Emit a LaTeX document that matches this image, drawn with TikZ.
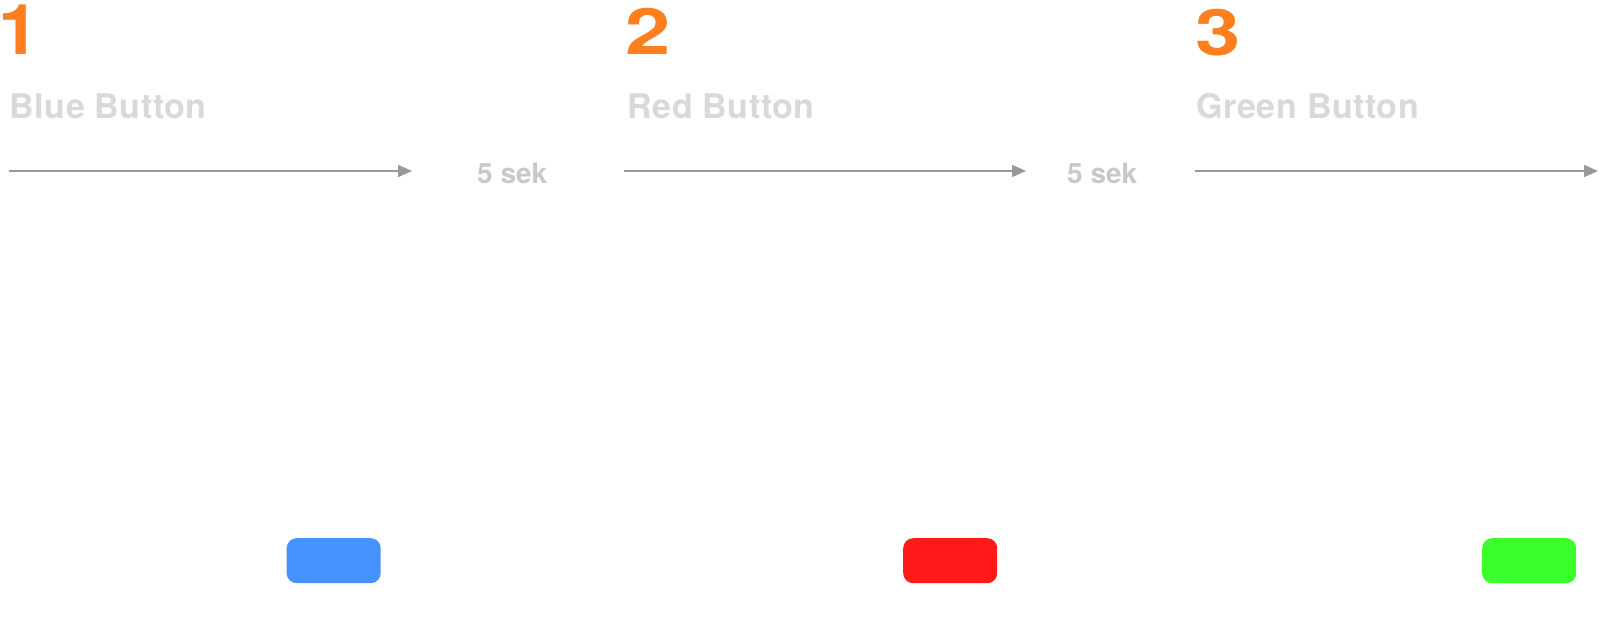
\documentclass[tikz,border=0pt]{standalone}
\usepackage{fontspec}
\setmainfont{TeX Gyre Heros}
\usetikzlibrary{arrows.meta}
\definecolor{numorange}{HTML}{FF7F1E}
\definecolor{titlegray}{HTML}{D9D9D9}
\definecolor{secgray}{HTML}{C8C8C8}
\definecolor{arrowgray}{HTML}{999999}
\definecolor{btnblue}{HTML}{4693FF}
\definecolor{btnred}{HTML}{FF1A1A}
\definecolor{btngreen}{HTML}{3AFF2A}
\newfontfamily\titlefont[LetterSpace=1.5]{TeX Gyre Heros}
\newfontfamily\secfont{TeX Gyre Heros}
\newcommand{\widedigit}[2]{\scalebox{#1}[1]{#2}}
\tikzset{
  stepnum/.style={inner sep=0pt, anchor=base west, text=numorange, font=\secfont\bfseries\fontsize{64}{64}\selectfont},
  steptitle/.style={inner sep=0pt, anchor=base west, text=titlegray, font=\titlefont\bfseries\fontsize{34}{34}\selectfont},
  seclabel/.style={inner sep=0pt, anchor=base west, text=secgray, font=\secfont\bfseries\fontsize{28}{28}\selectfont},
  flowarrow/.style={draw=arrowgray, line width=1.5pt, -{Triangle[length=14pt,width=12pt]}},
  btn/.style={rounded corners=10pt, minimum width=94pt, minimum height=45pt, inner sep=0pt, anchor=north west}
}
\begin{document}
\begin{tikzpicture}[x=1pt,y=-1pt]
\useasboundingbox[fill=white] (0,0) rectangle (1604,618);
% step numbers
\node[stepnum, font=\secfont\bfseries\fontsize{70}{70}\selectfont] (n1) at (-2,55) {\widedigit{1.05}{1}};
\node[stepnum] (n2) at (625,55) {\widedigit{1.27}{2}};
\node[stepnum] (n3) at (1195,55.5) {\widedigit{1.27}{3}};
% titles
\node[steptitle] (t1) at (9.5,118) {Blue Button};
\node[steptitle] (t2) at (627.5,118) {Red Button};
\node[steptitle] (t3) at (1196.5,118) {Green Button};
% arrows
\coordinate (a1s) at (9,171);
\coordinate (a1e) at (412,171);
\coordinate (a2s) at (624,171);
\coordinate (a2e) at (1026,171);
\coordinate (a3s) at (1195,171);
\coordinate (a3e) at (1598,171);
\draw[flowarrow] (a1s) -- (a1e);
\draw[flowarrow] (a2s) -- (a2e);
\draw[flowarrow] (a3s) -- (a3e);
% delay labels
\node[seclabel] (s1) at (477,183.5) {5 sek};
\node[seclabel] (s2) at (1067,183.5) {5 sek};
% buttons
\node[btn, fill=btnblue] (b1) at (286.5,538) {};
\node[btn, fill=btnred] (b2) at (903,538) {};
\node[btn, fill=btngreen] (b3) at (1482,538) {};
\end{tikzpicture}
\end{document}
